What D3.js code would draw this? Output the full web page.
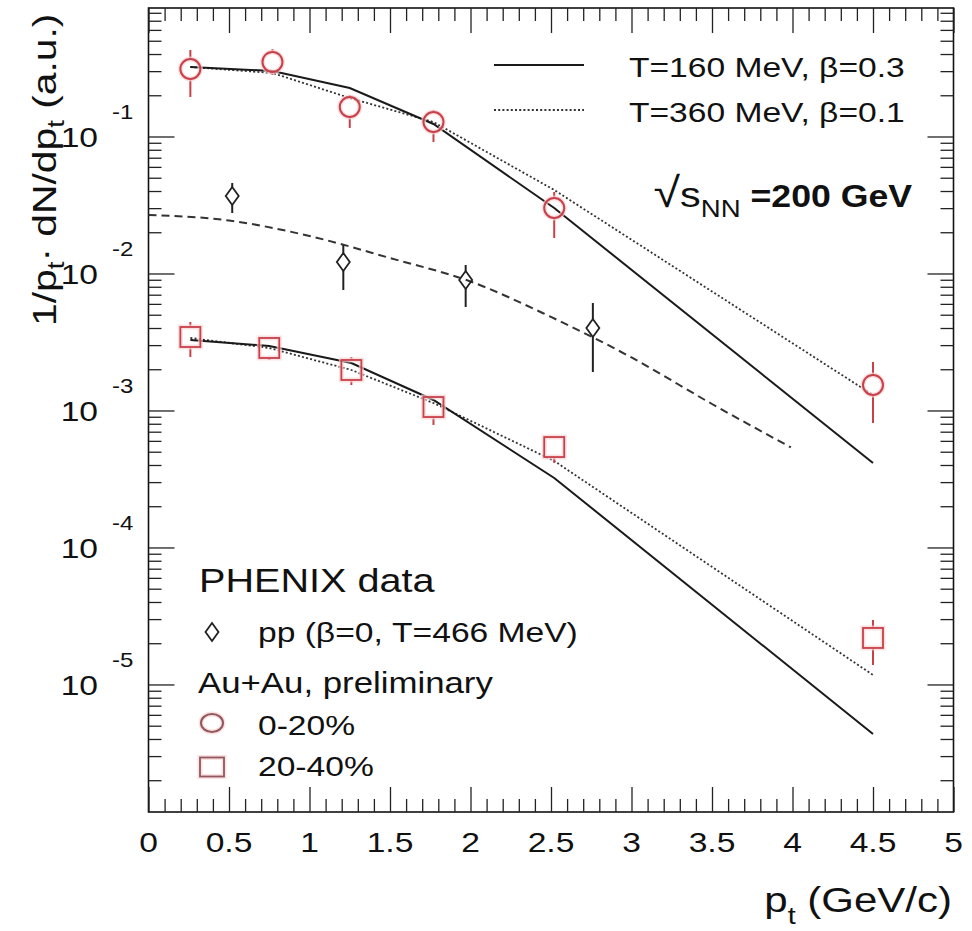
<!DOCTYPE html>
<html><head><meta charset="utf-8">
<script src="https://cdn.jsdelivr.net/npm/d3@7"></script>
<style>
body{margin:0;background:#fff}
svg text{font-family:"Liberation Sans",Arial,Helvetica,sans-serif;fill:#111}
</style></head><body>
<svg id="c" width="972" height="931"></svg>
<script>
// ---------- data ----------
const xMajorTicks=[0,0.5,1,1.5,2,2.5,3,3.5,4,4.5,5];
const xTickLabels=["0","0.5","1","1.5","2","2.5","3","3.5","4","4.5","5"];
const yDecadeExps=[-1,-2,-3,-4,-5];
const yTickLabels=["-1","-2","-3","-4","-5"];

// Au+Au 0-20% (circles)
const ptCentral=[0.26,0.77,1.25,1.77,2.52,4.5];
const yCentral=[0.311,0.350,0.1642,0.1276,0.03006,0.001535];
const yCentralHi=[0.428,0.435,0.2009,0.1561,0.03935,0.00226];
const yCentralLo=[0.1942,0.2811,0.1155,0.0912,0.01816,0.000811];
// Au+Au 20-40% (squares)
const ptMid=[0.26,0.75,1.26,1.77,2.52,4.5];
const yMid=[0.003439,0.002859,0.001975,0.00106,0.000541,2.185e-5];
const yMidHi=[0.004426,0.003382,0.002458,0.001254,0.000641,2.956e-5];
const yMidLo=[0.002458,0.002336,0.001535,0.000784,0.000414,1.388e-5];
// pp (diamonds)
const ptPP=[0.52,1.21,1.97,2.76];
const yPP=[0.03678,0.01213,0.008965,0.004002];
const yPPHi=[0.04576,0.01614,0.01153,0.006089];
const yPPLo=[0.02764,0.007578,0.005694,0.00191];

// model curves
const fitCentralT160=[0.3216,0.3007,0.2259,0.1234,0.03006,0.000414];
const fitCentralT360=[0.3216,0.2908,0.191,0.1276,0.0407,0.001297];
const fitMidT160=[0.00327,0.002957,0.002222,0.001193,0.0003216,4.351e-6];
const fitMidT360=[0.003382,0.002859,0.001975,0.001134,0.000428,1.173e-5];
const ptFitPP=[0,0.5,1,1.5,2,2.5,3,3.5,3.99];
const fitPP=[0.02673,0.02436,0.01878,0.01297,0.008742,0.004815,0.002438,0.001115,0.000538];

// ---------- setup ----------
const svg=d3.select("#c");
const L=148.5,R=953.5,T=8,B=812;
const x=d3.scaleLinear().domain([0,5]).range([L,R]);
const y=d3.scaleLog().domain([Math.pow(10,-5.931),Math.pow(10,-0.062)]).range([B,T]);
const SX=1.2; // horizontal glyph stretch of the original
const red="#c8404a", redLeg="#93585e", halo="#f6d4d6";

// frame
svg.append("rect").attr("x",L).attr("y",T).attr("width",R-L).attr("height",B-T)
  .attr("fill","none").attr("stroke","#111").attr("stroke-width",1.6);

// ticks
const xMinor=d3.range(0,51).map(i=>i/10).filter(v=>Math.abs(v*2-Math.round(v*2))>1e-6);
const yMajorVals=yDecadeExps.map(e=>Math.pow(10,e));
const yMinorVals=[];
for(let e=-6;e<=-1;e++) for(let k=2;k<=9;k++){const v=k*Math.pow(10,e); if(v>y.domain()[0]&&v<y.domain()[1]) yMinorVals.push(v);}
function tk(axis,tr,vals,size){
  const g=svg.append("g").attr("transform",tr)
    .call(axis.tickValues(vals).tickSizeInner(-size).tickSizeOuter(0).tickFormat(""));
  g.select(".domain").remove();
  g.selectAll("line").attr("stroke","#222").attr("stroke-width",1.3);
}
tk(d3.axisBottom(x),`translate(0,${B})`,xMajorTicks,25);
tk(d3.axisBottom(x),`translate(0,${B})`,xMinor,13);
tk(d3.axisTop(x),`translate(0,${T})`,xMajorTicks,25);
tk(d3.axisTop(x),`translate(0,${T})`,xMinor,13);
tk(d3.axisLeft(y),`translate(${L},0)`,yMajorVals,26);
tk(d3.axisLeft(y),`translate(${L},0)`,yMinorVals,13);
tk(d3.axisRight(y),`translate(${R},0)`,yMajorVals,26);
tk(d3.axisRight(y),`translate(${R},0)`,yMinorVals,13);

// text helper
function txt(px,py,parts,anchor,sx,rot){
  const t=svg.append("text")
    .attr("transform",`translate(${px},${py})`+(rot?` rotate(${rot})`:"")+` scale(${sx},1)`)
    .attr("text-anchor",anchor||"start");
  parts.forEach(p=>{
    const s=t.append("tspan").text(p.t).attr("font-size",p.fs);
    if(p.dy) s.attr("dy",p.dy);
    if(p.fw) s.attr("font-weight",p.fw);
  });
  return t;
}

// x tick labels
xMajorTicks.forEach((v,i)=>txt(x(v),852,[{t:xTickLabels[i],fs:28}],"middle",SX));
// y tick labels
yDecadeExps.forEach((e,i)=>{
  const yy=y(Math.pow(10,e));
  txt(98,yy+10.5,[{t:"10",fs:28}],"end",SX);
  txt(112,yy-17,[{t:yTickLabels[i],fs:20}],"start",SX);
});
// axis titles
txt(952,912,[{t:"p",fs:35},{t:"t",fs:24,dy:12},{t:" (GeV/c)",fs:35,dy:-12}],"end",SX);
txt(56,326,[{t:"1/p",fs:34},{t:"t",fs:23,dy:8},{t:"\u00b7",fs:34,dy:-8},{t:" dN/dp",fs:34},{t:"t",fs:23,dy:8},{t:" (a.u.)",fs:34,dy:-8}],"start",SX,-90);

// curves
const line=d3.line().x(d=>x(d[0])).y(d=>y(d[1]));
const smooth=d3.line().x(d=>x(d[0])).y(d=>y(d[1])).curve(d3.curveMonotoneX);
function curve(xs,ys,gen,dash,w,col){
  svg.append("path").datum(xs.map((v,i)=>[v,ys[i]])).attr("d",gen)
    .attr("fill","none").attr("stroke",col).attr("stroke-width",w)
    .attr("stroke-dasharray",dash||null);
}
curve(ptFitPP,fitPP,smooth,"8,5",2,"#333");
curve(ptCentral,fitCentralT360,line,"2,2.2",1.8,"#333");
curve(ptMid,fitMidT360,line,"2,2.2",1.8,"#333");
curve(ptCentral,fitCentralT160,line,null,2,"#1a1a1a");
curve(ptMid,fitMidT160,line,null,2,"#1a1a1a");

// error bars (stop at marker edge)
function errs(xs,ys,hi,lo,half,col){
  xs.forEach((v,i)=>{
    const cx=x(v),cy=y(ys[i]),yh=y(hi[i]),yl=y(lo[i]);
    if(yh<cy-half) svg.append("line").attr("x1",cx).attr("x2",cx).attr("y1",yh).attr("y2",cy-half).attr("stroke",col).attr("stroke-width",2);
    if(yl>cy+half) svg.append("line").attr("x1",cx).attr("x2",cx).attr("y1",cy+half).attr("y2",yl).attr("stroke",col).attr("stroke-width",2);
  });
}
errs(ptCentral,yCentral,yCentralHi,yCentralLo,10,red);
errs(ptMid,yMid,yMidHi,yMidLo,10,red);
errs(ptPP,yPP,yPPHi,yPPLo,9,"#222");

// markers
function circ(cx,cy,rx,ry,col){
  svg.append("ellipse").attr("cx",cx).attr("cy",cy).attr("rx",rx).attr("ry",ry)
    .attr("fill","none").attr("stroke",halo).attr("stroke-width",5).attr("opacity",0.7);
  svg.append("ellipse").attr("cx",cx).attr("cy",cy).attr("rx",rx).attr("ry",ry)
    .attr("fill","none").attr("stroke",col).attr("stroke-width",2);
}
function sq(cx,cy,w,h,col){
  svg.append("rect").attr("x",cx-w/2).attr("y",cy-h/2).attr("width",w).attr("height",h)
    .attr("fill","none").attr("stroke",halo).attr("stroke-width",5).attr("opacity",0.7);
  svg.append("rect").attr("x",cx-w/2).attr("y",cy-h/2).attr("width",w).attr("height",h)
    .attr("fill","none").attr("stroke",col).attr("stroke-width",1.8);
}
function diam(cx,cy,w,h){
  const p=d3.path(); p.moveTo(cx,cy-h/2); p.lineTo(cx+w/2,cy); p.lineTo(cx,cy+h/2); p.lineTo(cx-w/2,cy); p.closePath();
  svg.append("path").attr("d",p.toString()).attr("fill","none").attr("stroke","#222").attr("stroke-width",1.8);
}
ptCentral.forEach((v,i)=>circ(x(v),y(yCentral[i]),10,10,red));
ptMid.forEach((v,i)=>sq(x(v),y(yMid[i]),20,20,red));
ptPP.forEach((v,i)=>diam(x(v),y(yPP[i]),13,18));

// top-right legend
svg.append("line").attr("x1",494).attr("x2",584).attr("y1",65).attr("y2",65).attr("stroke","#1a1a1a").attr("stroke-width",2);
svg.append("line").attr("x1",494).attr("x2",584).attr("y1",110).attr("y2",110).attr("stroke","#333").attr("stroke-width",1.8).attr("stroke-dasharray","2,2.2");
txt(629,77,[{t:"T=160 MeV, \u03b2=0.3",fs:28}],"start",SX);
txt(629,122,[{t:"T=360 MeV, \u03b2=0.1",fs:28}],"start",SX);
txt(912,207,[{t:"\u221a",fs:42},{t:"s",fs:36},{t:"NN",fs:24,dy:10},{t:" =200 GeV",fs:31,fw:"bold",dy:-10}],"end",1.15);

// bottom-left legend
txt(199,592,[{t:"PHENIX data",fs:33}],"start",SX);
diam(212,632,13,18);
txt(258,642,[{t:"pp (\u03b2=0, T=466 MeV)",fs:28}],"start",SX);
txt(198,693,[{t:"Au+Au, preliminary",fs:29}],"start",SX);
circ(212,723,11,9,redLeg);
txt(258,735,[{t:"0-20%",fs:28}],"start",SX);
sq(212,767,24,19,redLeg);
txt(258,776,[{t:"20-40%",fs:28}],"start",SX);
</script>
</body></html>
